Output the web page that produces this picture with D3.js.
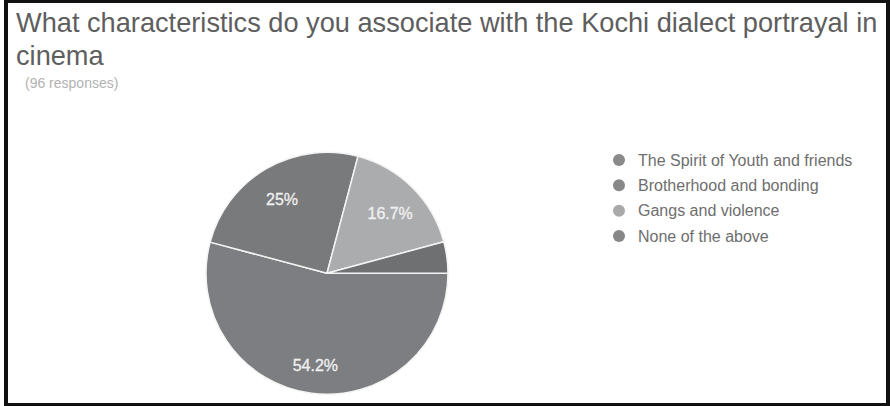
<!DOCTYPE html>
<html>
<head>
<meta charset="utf-8">
<script src="https://cdn.jsdelivr.net/npm/d3@7"></script>
<style>
  html, body { margin: 0; padding: 0; background: #fff; }
  svg { display: block; }
  text { font-family: "Liberation Sans", Arial, sans-serif; }
</style>
</head>
<body>
<svg id="chart" width="890" height="406"></svg>
<script>
// Survey answers and their share of responses (percent)
const categories = [
  "The Spirit of Youth and friends",
  "Brotherhood and bonding",
  "Gangs and violence",
  "None of the above"
];
const shares = [54.2, 25, 16.7, 4.2];
const sliceLabels = ["54.2%", "25%", "16.7%", ""];
const sliceColors = ["#7d7e81", "#797a7c", "#abacae", "#6f7072"];
const legendColors = ["#8a8a8a", "#888888", "#a9a9a9", "#878787"];

const titleLines = [
  "What characteristics do you associate with the Kochi dialect portrayal in",
  "cinema"
];
const subtitle = "(96 responses)";

const svg = d3.select("#chart");
const W = 890, H = 406;

svg.append("rect").attr("width", W).attr("height", H).attr("fill", "#fff");

// Title block
const title = svg.append("g").attr("fill", "#5e5e5e");
const line1 = title.append("text")
  .attr("x", 16).attr("y", 32)
  .style("font-size", "22px")
  .text(titleLines[0]);
// fit first line to the card width
const targetW = 862;
const w1 = line1.node().getComputedTextLength();
const titleSize = 22 * targetW / w1;
line1.style("font-size", titleSize + "px");
title.append("text")
  .attr("x", 16).attr("y", 65)
  .style("font-size", titleSize + "px")
  .text(titleLines[1]);

svg.append("text")
  .attr("x", 25).attr("y", 88)
  .attr("fill", "#b2b2b2")
  .style("font-size", "14px")
  .text(subtitle);

// Pie
const cx = 327, cy = 273.3, R = 121;
const pie = d3.pie().sort(null).value(d => d)
  .startAngle(Math.PI / 2).endAngle(Math.PI / 2 + 2 * Math.PI);
const arcs = pie(shares);
const arc = d3.arc().innerRadius(0).outerRadius(R);
const labelArc = d3.arc().innerRadius(R * 0.74).outerRadius(R * 0.74);

const g = svg.append("g").attr("transform", `translate(${cx},${cy})`);
g.selectAll("path.slice")
  .data(arcs)
  .join("path")
  .attr("class", "slice")
  .attr("d", arc)
  .attr("fill", (d, i) => sliceColors[i])
  .attr("stroke", "#f4f4f4")
  .attr("stroke-width", 1.5)
  .attr("stroke-linejoin", "round");

g.selectAll("text.lbl")
  .data(arcs)
  .join("text")
  .attr("class", "lbl")
  .attr("transform", d => `translate(${labelArc.centroid(d)})`)
  .attr("text-anchor", "middle")
  .attr("dy", "0.55em")
  .attr("fill", "#f0f0f0")
  .attr("stroke", "#f0f0f0")
  .attr("stroke-width", 0.3)
  .style("font-size", "16px")
  .text((d, i) => sliceLabels[i]);

// Legend
const legendY = d3.scalePoint().domain(categories).range([160, 236]);
const legend = svg.append("g");
const items = legend.selectAll("g.item")
  .data(categories)
  .join("g")
  .attr("class", "item")
  .attr("transform", d => `translate(619,${legendY(d)})`);
items.append("circle")
  .attr("r", 6)
  .attr("fill", (d, i) => legendColors[i]);
items.append("text")
  .attr("x", 19)
  .attr("dy", "0.36em")
  .attr("fill", "#6e6e6e")
  .style("font-size", "16px")
  .text(d => d);

// Card frame
const frame = svg.append("g").attr("fill", "#111");
frame.append("rect").attr("x", 4).attr("y", 0).attr("width", 4).attr("height", H);
frame.append("rect").attr("x", 4).attr("y", 0).attr("width", W - 4).attr("height", 3);
frame.append("rect").attr("x", 886).attr("y", 0).attr("width", 4).attr("height", H);
frame.append("rect").attr("x", 4).attr("y", 403).attr("width", W - 4).attr("height", 3);
</script>
</body>
</html>
